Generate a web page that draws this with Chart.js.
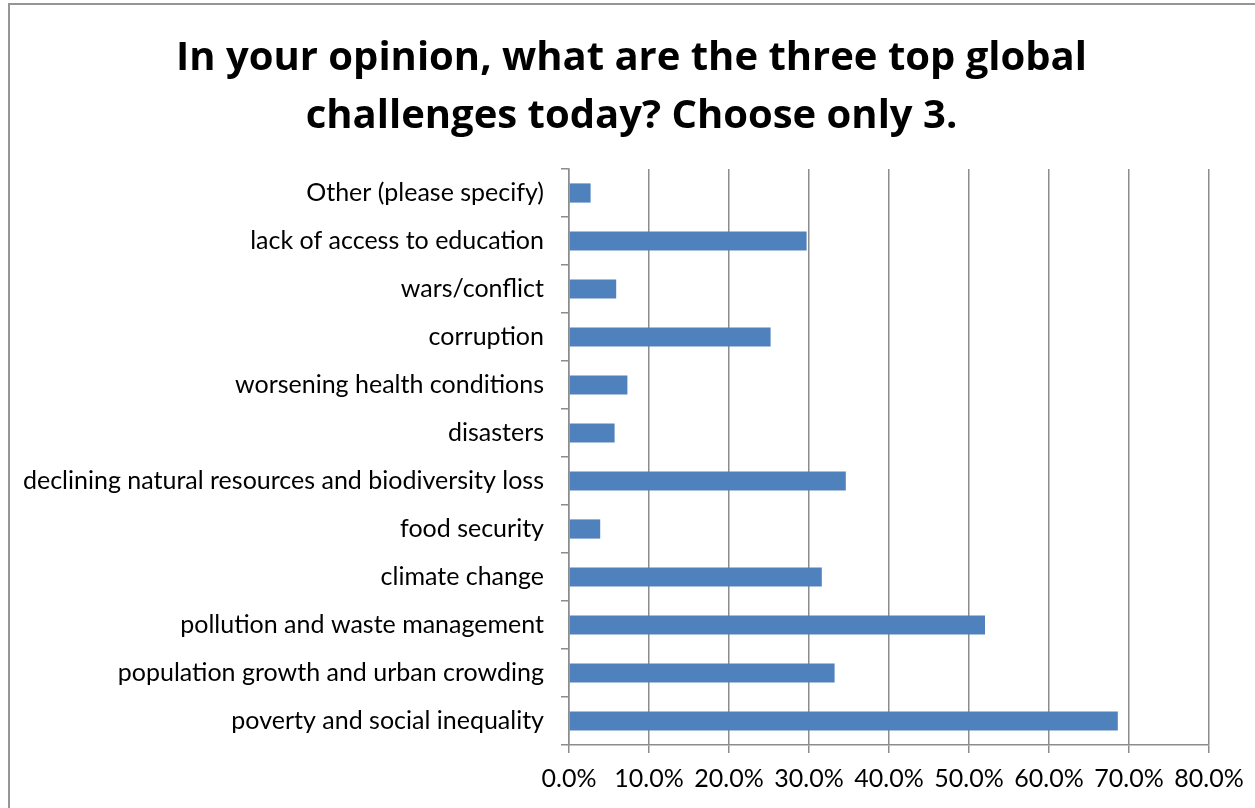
<!DOCTYPE html>
<html>
<head>
<meta charset="utf-8">
<script src="https://cdn.jsdelivr.net/npm/chart.js@4/dist/chart.umd.min.js"></script>
<style>
  html, body { margin: 0; padding: 0; background: #ffffff; overflow: hidden; }
  #wrap { position: relative; width: 1255px; height: 808px; }
  #frame { position: absolute; left: 8px; top: 3px; width: 1300px; height: 900px;
           border: 2px solid #969696; box-sizing: border-box; pointer-events: none; }
  canvas { position: absolute; left: 0; top: 0; }
</style>
</head>
<body>
<div id="wrap">
  <canvas id="chart" width="1255" height="808"></canvas>
  <div id="frame"></div>
</div>
<script>
// Survey answers, listed top to bottom as they appear on the chart
const categories = [
  "Other (please specify)",
  "lack of access to education",
  "wars/conflict",
  "corruption",
  "worsening health conditions",
  "disasters",
  "declining natural resources and biodiversity loss",
  "food security",
  "climate change",
  "pollution and waste management",
  "population growth and urban crowding",
  "poverty and social inequality"
];

// Share of respondents choosing each challenge (%)
const shares = [2.7, 29.7, 5.9, 25.2, 7.3, 5.7, 34.6, 3.9, 31.6, 52.0, 33.2, 68.6];

const titleLines = [
  "In your opinion, what are the three top global",
  "challenges today? Choose only 3."
];

const axisMin = 0;
const axisMax = 80;
const axisStep = 10;

const gridGrey = "#8c8c8c";
const barBlue = "#4f81bd";

new Chart(document.getElementById("chart"), {
  type: "bar",
  data: {
    labels: categories,
    datasets: [{
      data: shares,
      backgroundColor: barBlue,
      borderWidth: 0,
      barPercentage: 0.4,
      categoryPercentage: 1.0
    }]
  },
  options: {
    indexAxis: "y",
    responsive: false,
    animation: false,
    layout: { padding: { left: 12, right: 4, top: 0, bottom: 0 } },
    plugins: {
      legend: { display: false },
      tooltip: { enabled: false },
      title: {
        display: true,
        text: titleLines,
        color: "#000000",
        font: { family: "Open Sans", size: 40, weight: "bold", lineHeight: 1.45 },
        padding: { top: 30, bottom: 23 }
      }
    },
    scales: {
      x: {
        min: axisMin,
        max: axisMax,
        afterFit: (scale) => {
          scale.height = 63;
          // keep room on the right for the last tick label
          scale.paddingRight = 46;
        },
        ticks: {
          stepSize: axisStep,
          color: "#000000",
          padding: 11,
          maxRotation: 0,
          font: { family: "Lato", size: 25 },
          callback: (v) => Number(v).toFixed(1) + "%"
        },
        grid: {
          color: gridGrey,
          lineWidth: 1.5,
          tickLength: 8,
          drawTicks: true
        },
        border: { color: gridGrey, width: 1.5 }
      },
      y: {
        afterFit: (scale) => { scale.width = 557; },
        ticks: {
          color: "#000000",
          padding: 17,
          autoSkip: false,
          font: { family: "Lato", size: 25 }
        },
        grid: {
          color: gridGrey,
          lineWidth: 1.5,
          drawOnChartArea: false,
          tickLength: 8,
          offset: true
        },
        border: { color: gridGrey, width: 1.5 }
      }
    }
  }
});
</script>
</body>
</html>
